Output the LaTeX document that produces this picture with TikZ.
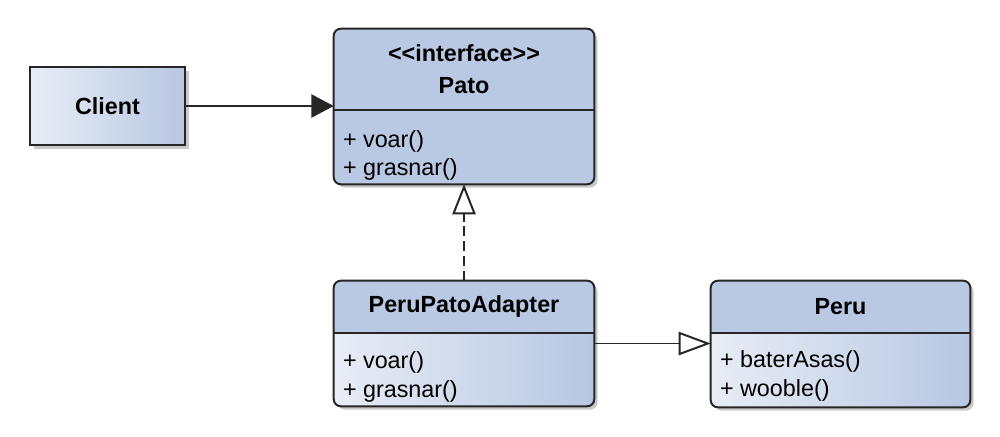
\documentclass[tikz,border=0pt]{standalone}
\usepackage{fontspec}
\setmainfont{Liberation Sans}[Ligatures=TeXOff]
\usetikzlibrary{arrows.meta,positioning,shadows}
\definecolor{headfill}{RGB}{185,201,227}
\definecolor{bodylight}{RGB}{232,237,246}
\definecolor{bodydark}{RGB}{183,199,226}
\definecolor{edge}{RGB}{38,38,38}

\begin{document}
\begin{tikzpicture}[
  font=\fontsize{16.6}{20.5}\selectfont,
  shade/.style={left color=bodylight, right color=bodydark, drop shadow={shadow xshift=2.5pt, shadow yshift=-2.5pt, opacity=0.3, fill=black!70}},
  cls/.style={shade, minimum width=6.5cm, rounded corners=5pt},
  frame/.style={draw=edge, line width=1.4pt, rounded corners=5pt},
  title/.style={font=\fontsize{16.6}{20.5}\selectfont\bfseries, align=center},
  ops/.style={align=left, inner sep=0pt},
  arr/.style={draw=edge, line width=1.4pt}
]
  \useasboundingbox (0,0) rectangle (25,-10.9);

  \node[shade, draw=edge, line width=1.4pt, minimum width=3.875cm, minimum height=1.95cm] (client) at (2.6875,-2.65) {\textbf{Client}};

  \node[cls, minimum height=3.875cm] (pato) at (11.6,-2.6625) {};
  \node[cls, minimum height=3.125cm] (adapter) at (11.6,-8.5875) {};
  \node[cls, minimum width=6.475cm, minimum height=3.15cm] (peru) at (21.0125,-8.6) {};

  \begin{scope}
    \clip[rounded corners=5pt] (pato.north west) rectangle (pato.south east);
    \fill[headfill] (pato.north west) rectangle ([yshift=-2.025cm]pato.east);
  \end{scope}
  \begin{scope}
    \clip[rounded corners=5pt] (adapter.north west) rectangle (adapter.south east);
    \fill[headfill] (adapter.north west) rectangle ([yshift=-1.3cm]adapter.north east);
  \end{scope}
  \begin{scope}
    \clip[rounded corners=5pt] (peru.north west) rectangle (peru.south east);
    \fill[headfill] (peru.north west) rectangle ([yshift=-1.3cm]peru.north east);
  \end{scope}

  \draw[frame] (pato.north west) rectangle (pato.south east);
  \draw[frame] (adapter.north west) rectangle (adapter.south east);
  \draw[frame] (peru.north west) rectangle (peru.south east);
  \draw[arr] ([yshift=-2.025cm]pato.north west) -- ([yshift=-2.025cm]pato.north east);
  \draw[arr] ([yshift=-1.3cm]adapter.north west) -- ([yshift=-1.3cm]adapter.north east);
  \draw[arr] ([yshift=-1.3cm]peru.north west) -- ([yshift=-1.3cm]peru.north east);

  \node[title] (patoname) at ([yshift=-1.0125cm]pato.north) {<<interface>>\\[2pt]Pato};
  \node[title] (adaptername) at ([yshift=-0.65cm]adapter.north) {PeruPatoAdapter};
  \node[title] (peruname) at ([yshift=-0.65cm]peru.north) {Peru};

  \node[ops, anchor=south west] (patoops) at ([xshift=0.225cm, yshift=0.08cm]pato.south west) {+ voar()\\+ grasnar()};
  \node[ops, anchor=south west] (adapterops) at ([xshift=0.225cm, yshift=0.09cm]adapter.south west) {+ voar()\\+ grasnar()};
  \node[ops, anchor=south west] (peruops) at ([xshift=0.225cm, yshift=0.14cm]peru.south west) {+ baterAsas()\\+ wooble()};

  \draw[arr, -{Triangle[length=0.56cm, width=0.58cm]}] (client) -- (client -| pato.west);
  \draw[arr, dash pattern=on 0.25cm off 0.12cm, -{Triangle[open, length=0.75cm, width=0.58cm, fill=white]}] (adapter) -- (pato);
  \draw[arr, -{Triangle[open, length=0.8cm, width=0.58cm, fill=white]}] (adapter) -- (adapter -| peru.west);
\end{tikzpicture}
\end{document}
